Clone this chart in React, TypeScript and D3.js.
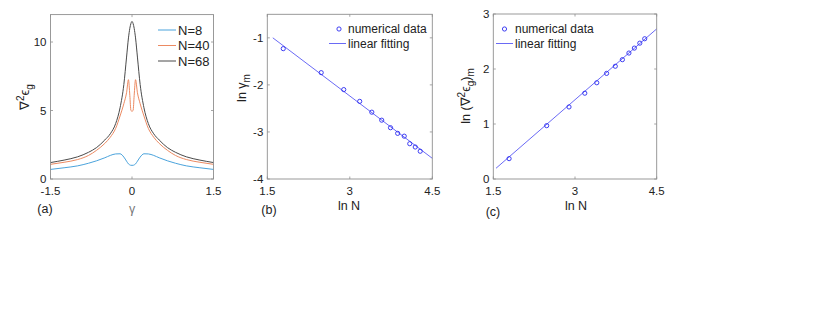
import React from 'react';
import * as d3 from 'd3';

// panel (a): gap second derivative vs gamma
const gamma = [-1.5, -1.25, -1.0, -0.8, -0.65, -0.5, -0.4, -0.3, -0.22, -0.15, -0.1, -0.065, -0.04, -0.02, 0,
  0.02, 0.04, 0.065, 0.1, 0.15, 0.22, 0.3, 0.4, 0.5, 0.65, 0.8, 1.0, 1.25, 1.5];
const gradN8 = [0.7, 0.82, 0.96, 1.15, 1.33, 1.55, 1.72, 1.83, 1.84, 1.6, 1.3, 1.1, 1.03, 1.0, 1.0,
  1.0, 1.03, 1.1, 1.3, 1.6, 1.84, 1.83, 1.72, 1.55, 1.33, 1.15, 0.96, 0.82, 0.7];
const gradN40 = [1.07, 1.22, 1.42, 1.72, 2.1, 2.6, 3.05, 3.7, 4.6, 5.5, 6.3, 7.25, 6.1, 5.0, 4.95,
  5.0, 6.1, 7.25, 6.3, 5.5, 4.6, 3.7, 3.05, 2.6, 2.1, 1.72, 1.42, 1.22, 1.07];
const gradN68 = [1.2, 1.38, 1.62, 1.95, 2.3, 2.85, 3.3, 4.05, 5.2, 6.9, 8.9, 10.3, 11.0, 11.35, 11.5,
  11.35, 11.0, 10.3, 8.9, 6.9, 5.2, 4.05, 3.3, 2.85, 2.3, 1.95, 1.62, 1.38, 1.2];
const seriesNames = ['N=8', 'N=40', 'N=68'];
const seriesColors = ['#4aa3dc', '#ec8a62', '#4a4a4a'];

// panels (b), (c): scaling with N
const lnN = [1.79, 2.48, 2.89, 3.18, 3.4, 3.58, 3.74, 3.87, 3.99, 4.09, 4.19, 4.28];
const lnGammaM = [-1.23, -1.74, -2.1, -2.35, -2.58, -2.75, -2.91, -3.03, -3.09, -3.25, -3.32, -3.41];
const lnGradM = [0.37, 0.97, 1.31, 1.56, 1.75, 1.92, 2.05, 2.17, 2.29, 2.38, 2.47, 2.55];
const fitRangeB = [1.6, 4.5];
const fitCoefB = [0.413, -0.883];
const fitRangeC = [1.55, 4.5];
const fitCoefC = [-1.136, 0.859];

const xTicksA = [-1.5, 0, 1.5];
const yTicksA = [0, 5, 10];
const xTicksBC = [1.5, 3, 4.5];
const yTicksB = [-4, -3, -2, -1];
const yTicksC = [0, 1, 2, 3];

const FONT = 'Liberation Sans, Arial, Helvetica, sans-serif';
const BLUE = '#2a2af0';

type Sc = d3.ScaleLinear<number, number>;

const Frame = ({ x, y, xt, yt }: { x: Sc; y: Sc; xt: number[]; yt: number[] }) => {
  const [x0, x1] = x.range();
  const [y0, y1] = y.range();
  const tl = 2.5;
  return (
    <g>
      <rect x={x0} y={y1} width={x1 - x0} height={y0 - y1} fill="none" stroke="#8f8f8f" strokeWidth={0.9} />
      {xt.map((t) => (
        <g key={'x' + t}>
          <line x1={x(t)} x2={x(t)} y1={y0} y2={y0 - tl} stroke="#8f8f8f" strokeWidth={0.8} />
          <line x1={x(t)} x2={x(t)} y1={y1} y2={y1 + tl} stroke="#8f8f8f" strokeWidth={0.8} />
          <text x={x(t)} y={195} fontSize={11.5} textAnchor="middle" fill="#222" fontFamily={FONT}>
            {String(t)}
          </text>
        </g>
      ))}
      {yt.map((t) => (
        <g key={'y' + t}>
          <line x1={x0} x2={x0 + tl} y1={y(t)} y2={y(t)} stroke="#8f8f8f" strokeWidth={0.8} />
          <line x1={x1} x2={x1 - tl} y1={y(t)} y2={y(t)} stroke="#8f8f8f" strokeWidth={0.8} />
          <text x={x0 - 4} y={y(t)} dy="0.35em" fontSize={11.5} textAnchor="end" fill="#222" fontFamily={FONT}>
            {String(t)}
          </text>
        </g>
      ))}
    </g>
  );
};

const App = () => {
  const xa = d3.scaleLinear().domain([-1.5, 1.5]).range([50.5, 213.5]);
  const ya = d3.scaleLinear().domain([0, 12]).range([179, 14.6]);
  const xb = d3.scaleLinear().domain([1.5, 4.5]).range([267.3, 432.3]);
  const yb = d3.scaleLinear().domain([-4, -0.5]).range([179, 14.3]);
  const xc = d3.scaleLinear().domain([1.5, 4.5]).range([493.3, 656.7]);
  const yc = d3.scaleLinear().domain([0, 3]).range([179, 14]);

  const lineA = (vals: number[]) =>
    d3.line<number>().x((_, i) => xa(gamma[i])).y((d) => ya(d)).curve(d3.curveMonotoneX)(vals) || '';
  const seriesA = [gradN8, gradN40, gradN68];

  const fitLine = (x: Sc, y: Sc, range: number[], coef: number[]) =>
    d3.line<number>().x((d) => x(d)).y((d) => y(coef[0] + coef[1] * d))(range) || '';

  const labelStyle = { fontFamily: FONT, fontSize: 12.5, fill: '#222' };

  return (
    <svg width={830} height={328} style={{ position: 'absolute', left: 0, top: 0, background: '#fff' }}>
      {/* panel a */}
      {seriesA.map((s, i) => (
        <path key={i} d={lineA(s)} fill="none" stroke={seriesColors[i]} strokeWidth={1} />
      ))}
      <Frame x={xa} y={ya} xt={xTicksA} yt={yTicksA} />
      {seriesNames.map((n, i) => (
        <g key={n}>
          <line x1={158} x2={176} y1={30 + i * 15.5} y2={30 + i * 15.5} stroke={seriesColors[i]} strokeWidth={1} />
          <text x={178} y={30 + i * 15.5} dy="0.36em" fontSize={13} fill="#222" fontFamily={FONT}>{n}</text>
        </g>
      ))}
      <text transform="translate(29,97) rotate(-90)" textAnchor="middle" {...labelStyle} fontSize={13}>
        ∇<tspan dy={-5} fontSize={10}>2</tspan><tspan dy={5}>ϵ</tspan><tspan dy={4} fontSize={10}>g</tspan>
      </text>
      <text x={132} y={213} textAnchor="middle" {...labelStyle} fill="#777">γ</text>
      <text x={45} y={213} textAnchor="middle" {...labelStyle}>(a)</text>

      {/* panel b */}
      <path d={fitLine(xb, yb, fitRangeB, fitCoefB)} fill="none" stroke={BLUE} strokeWidth={0.7} />
      {lnN.map((v, i) => (
        <circle key={i} cx={xb(v)} cy={yb(lnGammaM[i])} r={2.1} fill="none" stroke={BLUE} strokeWidth={0.9} />
      ))}
      <Frame x={xb} y={yb} xt={xTicksBC} yt={yTicksB} />
      <circle cx={339} cy={29} r={2.1} fill="none" stroke={BLUE} strokeWidth={0.9} />
      <text x={348} y={29} dy="0.36em" fontSize={12} fill="#222" fontFamily={FONT}>numerical data</text>
      <line x1={329} x2={346} y1={43.5} y2={43.5} stroke={BLUE} strokeWidth={0.7} />
      <text x={348} y={43.5} dy="0.36em" fontSize={12} fill="#222" fontFamily={FONT}>linear fitting</text>
      <text transform="translate(246,88) rotate(-90)" textAnchor="middle" {...labelStyle}>
        ln <tspan>γ</tspan><tspan dy={4} fontSize={10}>m</tspan>
      </text>
      <text x={349} y={210} textAnchor="middle" {...labelStyle}>ln N</text>
      <text x={269} y={214} textAnchor="middle" {...labelStyle}>(b)</text>

      {/* panel c */}
      <path d={fitLine(xc, yc, fitRangeC, fitCoefC)} fill="none" stroke={BLUE} strokeWidth={0.7} />
      {lnN.map((v, i) => (
        <circle key={i} cx={xc(v)} cy={yc(lnGradM[i])} r={2.1} fill="none" stroke={BLUE} strokeWidth={0.9} />
      ))}
      <Frame x={xc} y={yc} xt={xTicksBC} yt={yTicksC} />
      <circle cx={504.5} cy={29} r={2.1} fill="none" stroke={BLUE} strokeWidth={0.9} />
      <text x={515} y={29} dy="0.36em" fontSize={12} fill="#222" fontFamily={FONT}>numerical data</text>
      <line x1={496} x2={513} y1={43.5} y2={43.5} stroke={BLUE} strokeWidth={0.7} />
      <text x={515} y={43.5} dy="0.36em" fontSize={12} fill="#222" fontFamily={FONT}>linear fitting</text>
      <text transform="translate(470,96) rotate(-90)" textAnchor="middle" {...labelStyle}>
        ln (∇<tspan dy={-5} fontSize={10}>2</tspan><tspan dy={5}>ϵ</tspan><tspan dy={4} fontSize={10}>g</tspan>
        <tspan dy={-4}>)</tspan><tspan dy={4} fontSize={10}>m</tspan>
      </text>
      <text x={576} y={210} textAnchor="middle" {...labelStyle}>ln N</text>
      <text x={493} y={216} textAnchor="middle" {...labelStyle}>(c)</text>
    </svg>
  );
};

export default App;
